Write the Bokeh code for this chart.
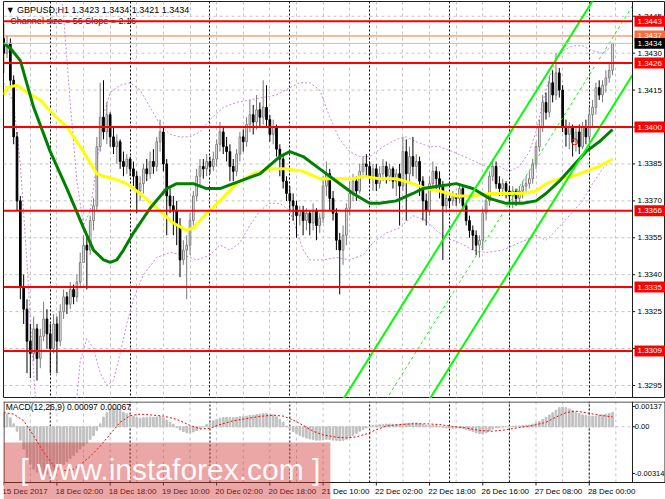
from bokeh.plotting import figure
from bokeh.layouts import column
from bokeh.models import Range1d, ColumnDataSource
from bokeh.core.properties import value
from bokeh.embed import file_html
from bokeh.resources import INLINE

FONT = "Liberation Sans"

# ---------------- data (GBPUSD H1, bar index 0 = 15 Dec 10:00) ----------------
first_open = 1.3436
close = [
    # 15 Dec
    1.3430, 1.3434, 1.3419, 1.3396, 1.3370, 1.3335, 1.3326, 1.3313, 1.3308, 1.3318, 1.3306, 1.3315, 1.3322, 1.3316,
    # 18 Dec
    1.3310, 1.3320, 1.3313, 1.3325, 1.3331, 1.3328, 1.3334, 1.3331, 1.3337, 1.3345, 1.3352, 1.3350,
    1.3362, 1.3368, 1.3392, 1.3404, 1.3398, 1.3405, 1.3396, 1.3392, 1.3394, 1.3386, 1.3384, 1.3387,
    # 19 Dec
    1.3383, 1.3380, 1.3374, 1.3377, 1.3383, 1.3381, 1.3386, 1.3384, 1.3394, 1.3398, 1.3385, 1.3372,
    1.3368, 1.3366, 1.3360, 1.3346, 1.3350, 1.3352, 1.3362, 1.3372, 1.3380, 1.3384, 1.3383, 1.3386,
    # 20 Dec
    1.3384, 1.3387, 1.3393, 1.3398, 1.3392, 1.3390, 1.3384, 1.3382, 1.3389, 1.3396, 1.3394, 1.3401,
    1.3405, 1.3402, 1.3407, 1.3404, 1.3408, 1.3403, 1.3397, 1.3400, 1.3391, 1.3387, 1.3378, 1.3373,
    # 21 Dec
    1.3370, 1.3368, 1.3364, 1.3366, 1.3362, 1.3365, 1.3361, 1.3366, 1.3360, 1.3363, 1.3376, 1.3381,
    1.3371, 1.3365, 1.3354, 1.3350, 1.3356, 1.3367, 1.3373, 1.3378, 1.3374, 1.3382, 1.3385, 1.3384,
    # 22 Dec
    1.3380, 1.3383, 1.3377, 1.3381, 1.3384, 1.3380, 1.3383, 1.3378, 1.3381, 1.3376, 1.3390, 1.3381,
    1.3388, 1.3384, 1.3386, 1.3378, 1.3370, 1.3366, 1.3377, 1.3382, 1.3379, 1.3376, 1.3368, 1.3371,
    # 26 Dec
    1.3370, 1.3372, 1.3371, 1.3375, 1.3368, 1.3362, 1.3358, 1.3356, 1.3352, 1.3354, 1.3365, 1.3370,
    1.3380, 1.3384, 1.3377, 1.3375, 1.3377, 1.3374,
    # 27 Dec
    1.3372, 1.3374, 1.3371, 1.3374, 1.3376, 1.3377, 1.3379, 1.3385, 1.3392, 1.3400, 1.3410, 1.3406,
    1.3418, 1.3413, 1.3422, 1.3415, 1.3400, 1.3397, 1.3400, 1.3394, 1.3398, 1.3392, 1.3400, 1.3396,
    # 28 Dec
    1.3405, 1.3408, 1.3416, 1.3413, 1.3417, 1.3420, 1.3423, 1.3434,
]
high = [
    1.3442, 1.3437, 1.3436, 1.3421, 1.3398, 1.3372, 1.3340, 1.3330, 1.3320, 1.3323, 1.3320, 1.3318, 1.3329, 1.3326,
    1.3320, 1.3324, 1.3323, 1.3328, 1.3334, 1.3333, 1.3337, 1.3336, 1.3340, 1.3349, 1.3356, 1.3356,
    1.3364, 1.3371, 1.3396, 1.3418, 1.3419, 1.3410, 1.3406, 1.3400, 1.3397, 1.3395, 1.3390, 1.3389,
    1.3388, 1.3386, 1.3382, 1.3380, 1.3385, 1.3387, 1.3390, 1.3391, 1.3396, 1.3403, 1.3400, 1.3387,
    1.3375, 1.3372, 1.3370, 1.3363, 1.3354, 1.3356, 1.3365, 1.3374, 1.3383, 1.3387, 1.3387, 1.3389,
    1.3388, 1.3390, 1.3395, 1.3402, 1.3400, 1.3396, 1.3393, 1.3387, 1.3391, 1.3398, 1.3399, 1.3404,
    1.3411, 1.3409, 1.3413, 1.3410, 1.3419, 1.3417, 1.3405, 1.3403, 1.3401, 1.3393, 1.3389, 1.3380,
    1.3376, 1.3373, 1.3370, 1.3368, 1.3368, 1.3367, 1.3366, 1.3369, 1.3367, 1.3365, 1.3380, 1.3386,
    1.3383, 1.3374, 1.3367, 1.3357, 1.3360, 1.3369, 1.3378, 1.3381, 1.3380, 1.3385, 1.3388, 1.3389,
    1.3386, 1.3385, 1.3385, 1.3384, 1.3387, 1.3386, 1.3385, 1.3384, 1.3383, 1.3385, 1.3396, 1.3395,
    1.3392, 1.3396, 1.3389, 1.3388, 1.3380, 1.3373, 1.3380, 1.3386, 1.3384, 1.3382, 1.3378, 1.3374,
    1.3373, 1.3374, 1.3373, 1.3377, 1.3376, 1.3369, 1.3364, 1.3360, 1.3358, 1.3356, 1.3367, 1.3372,
    1.3382, 1.3387, 1.3386, 1.3380, 1.3379, 1.3378,
    1.3376, 1.3376, 1.3375, 1.3376, 1.3378, 1.3380, 1.3382, 1.3387, 1.3394, 1.3403, 1.3413, 1.3414,
    1.3421, 1.3423, 1.3430, 1.3424, 1.3417, 1.3403, 1.3402, 1.3401, 1.3400, 1.3401, 1.3402, 1.3403,
    1.3408, 1.3411, 1.3418, 1.3419, 1.3419, 1.3423, 1.3426, 1.3434,
]
low = [
    1.3422, 1.3428, 1.3416, 1.3393, 1.3366, 1.3330, 1.3320, 1.3300, 1.3298, 1.3305, 1.3297, 1.3302, 1.3313, 1.3310,
    1.3300, 1.3308, 1.3300, 1.3311, 1.3322, 1.3324, 1.3326, 1.3328, 1.3329, 1.3335, 1.3345, 1.3334,
    1.3348, 1.3358, 1.3366, 1.3390, 1.3395, 1.3393, 1.3392, 1.3389, 1.3385, 1.3383, 1.3380, 1.3381,
    1.3380, 1.3376, 1.3365, 1.3370, 1.3373, 1.3378, 1.3379, 1.3381, 1.3382, 1.3390, 1.3382, 1.3356,
    1.3365, 1.3356, 1.3352, 1.3339, 1.3344, 1.3330, 1.3348, 1.3360, 1.3370, 1.3376, 1.3379, 1.3380,
    1.3381, 1.3382, 1.3384, 1.3390, 1.3389, 1.3386, 1.3378, 1.3378, 1.3380, 1.3386, 1.3390, 1.3392,
    1.3398, 1.3397, 1.3399, 1.3400, 1.3401, 1.3400, 1.3394, 1.3393, 1.3388, 1.3380, 1.3375, 1.3370,
    1.3366, 1.3362, 1.3355, 1.3360, 1.3356, 1.3358, 1.3356, 1.3358, 1.3354, 1.3357, 1.3361, 1.3372,
    1.3366, 1.3362, 1.3350, 1.3332, 1.3344, 1.3352, 1.3364, 1.3370, 1.3370, 1.3373, 1.3379, 1.3380,
    1.3377, 1.3374, 1.3374, 1.3375, 1.3378, 1.3377, 1.3378, 1.3375, 1.3372, 1.3360, 1.3374, 1.3362,
    1.3378, 1.3380, 1.3379, 1.3372, 1.3362, 1.3360, 1.3364, 1.3374, 1.3374, 1.3371, 1.3346, 1.3365,
    1.3367, 1.3368, 1.3368, 1.3369, 1.3366, 1.3360, 1.3355, 1.3350, 1.3348, 1.3347, 1.3350, 1.3362,
    1.3368, 1.3378, 1.3375, 1.3372, 1.3372, 1.3371,
    1.3369, 1.3367, 1.3368, 1.3369, 1.3371, 1.3373, 1.3375, 1.3377, 1.3383, 1.3390, 1.3398, 1.3403,
    1.3404, 1.3410, 1.3411, 1.3412, 1.3398, 1.3392, 1.3391, 1.3388, 1.3390, 1.3389, 1.3391, 1.3393,
    1.3394, 1.3400, 1.3405, 1.3411, 1.3410, 1.3414, 1.3418, 1.3421,
]

# moving averages (sampled: bar index, price)
ma_green_idx = [0, 2, 5, 9, 14, 19, 24, 27, 30, 32, 34, 36, 39, 44, 49, 52, 57, 61, 65, 71, 77, 83, 86, 90,
                95, 100, 105, 110, 113, 118, 123, 126, 131, 136, 141, 146, 151, 156, 160, 163, 167, 171, 175, 179, 183]
ma_green = [1.3434, 1.3432, 1.3427, 1.3408, 1.3390, 1.3375, 1.3359, 1.3350, 1.3346, 1.3345, 1.3346, 1.3350,
            1.3357, 1.3367, 1.3375, 1.3377, 1.3377, 1.3375, 1.3375, 1.3378, 1.3381, 1.3388, 1.3390, 1.3388,
            1.3383, 1.3378, 1.3373, 1.3369, 1.3369, 1.3370, 1.3373, 1.3375, 1.3376, 1.3377, 1.3375, 1.3371,
            1.3369, 1.3369, 1.3370, 1.3373, 1.3378, 1.3384, 1.3390, 1.3394, 1.3399]
ma_yellow_idx = [0, 1, 4, 7, 11, 15, 19, 24, 28, 30, 33, 37, 41, 46, 51, 55, 57, 61, 65, 70, 75, 80, 85, 90,
                 95, 100, 105, 108, 113, 118, 123, 127, 131, 136, 141, 146, 151, 156, 160, 163, 167, 171, 175, 179, 183]
ma_yellow = [1.3413, 1.3416, 1.3417, 1.3414, 1.3411, 1.3405, 1.3400, 1.3390, 1.3381, 1.3380, 1.3379, 1.3377,
             1.3373, 1.3367, 1.3361, 1.3358, 1.3359, 1.3365, 1.3370, 1.3377, 1.3381, 1.3383, 1.3383, 1.3382,
             1.3379, 1.3379, 1.3379, 1.3380, 1.3379, 1.3379, 1.3377, 1.3375, 1.3374, 1.3372, 1.3372, 1.3373,
             1.3373, 1.3373, 1.3374, 1.3377, 1.3379, 1.3380, 1.3382, 1.3384, 1.3387]

# bands (sampled)
bb_up_idx = [0, 8, 16, 18, 20, 22, 24, 26, 28, 30, 32, 35, 38, 41, 44, 47, 50, 53, 56, 59, 62, 66, 70, 74, 78,
             82, 86, 89, 92, 95, 98, 101, 104, 107, 110, 114, 118, 121, 124, 128, 131, 135, 140, 145, 149, 152,
             155, 158, 160, 162, 164, 166, 168, 171, 174, 177, 180, 183]
bb_up = [1.3460, 1.3475, 1.3470, 1.3445, 1.3410, 1.3378, 1.3360, 1.3366, 1.3385, 1.3405, 1.3414, 1.3417,
         1.3418, 1.3415, 1.3408, 1.3401, 1.3397, 1.3396, 1.3396, 1.3398, 1.3403, 1.3408, 1.3410, 1.3411,
         1.3412, 1.3413, 1.3416, 1.3418, 1.3418, 1.3415, 1.3404, 1.3395, 1.3390, 1.3388, 1.3388, 1.3392,
         1.3395, 1.3396, 1.3394, 1.3392, 1.3392, 1.3390, 1.3387, 1.3384, 1.3384, 1.3382, 1.3384, 1.3390,
         1.3398, 1.3410, 1.3420, 1.3427, 1.3431, 1.3433, 1.3433, 1.3431, 1.3430, 1.3433]
bb_lo_idx = [0, 3, 5, 7, 9, 10, 12, 20, 22, 23, 25, 27, 29, 31, 33, 35, 37, 39, 42, 46, 50, 54, 58, 62, 65,
             68, 71, 74, 77, 80, 83, 86, 88, 90, 92, 96, 100, 104, 108, 111, 115, 119, 123, 127, 130, 133,
             137, 141, 145, 150, 155, 160, 163, 166, 170, 174, 177, 180, 183]
bb_lo = [1.3418, 1.3410, 1.3385, 1.3345, 1.3300, 1.3280, 1.3260, 1.3260, 1.3290, 1.3305, 1.3314, 1.3310,
         1.3300, 1.3295, 1.3297, 1.3308, 1.3320, 1.3330, 1.3340, 1.3347, 1.3349, 1.3348, 1.3346, 1.3348,
         1.3352, 1.3350, 1.3353, 1.3360, 1.3366, 1.3369, 1.3369, 1.3366, 1.3358, 1.3350, 1.3346, 1.3346,
         1.3347, 1.3346, 1.3348, 1.3353, 1.3357, 1.3359, 1.3364, 1.3362, 1.3358, 1.3355, 1.3353, 1.3350,
         1.3349, 1.3350, 1.3353, 1.3356, 1.3354, 1.3358, 1.3364, 1.3370, 1.3377, 1.3383, 1.3387]

# regression channel (upper line anchor, slope per bar, channel size)
chan_anchor_idx = 102.35
chan_anchor_upper = 1.3290
chan_slope = 0.000216
chan_size = 0.0056

# horizontal levels and price markers
levels = [1.3443, 1.3426, 1.3400, 1.3366, 1.3335, 1.3309]
ask_price = 1.3437
bid_price = 1.3434
order_mark_idx = [171.6]
order_mark_price = [1.3394]

price_ticks = [1.3445, 1.3430, 1.3415, 1.3400, 1.3385, 1.3370, 1.3355, 1.3340, 1.3325, 1.3310, 1.3295]
day_start_idx = [14, 38, 62, 86, 110, 134, 152, 176]
grid_idx = [8, 16, 24, 32, 40, 48, 56, 64, 72, 80, 88, 96, 104, 112, 120, 128, 136, 144, 152, 160, 168, 176, 184]
date_label_idx = [0, 16, 32, 48, 64, 80, 96, 112, 128, 144, 160, 176]
date_labels = ["15 Dec 2017", "18 Dec 02:00", "18 Dec 18:00", "19 Dec 10:00", "20 Dec 02:00", "20 Dec 18:00",
               "21 Dec 10:00", "22 Dec 02:00", "22 Dec 18:00", "26 Dec 16:00", "27 Dec 08:00", "28 Dec 00:00"]

# MACD (12,26,9): main line (histogram) per bar, signal sampled
macd_hist = [
    0.00090, 0.00085, 0.00060, 0.00020, -0.00030, -0.00090, -0.00150, -0.00205, -0.00250, -0.00285, -0.00305, -0.00318, -0.00322, -0.00318,
    -0.00310, -0.00298, -0.00285, -0.00270, -0.00252, -0.00235, -0.00215, -0.00195, -0.00172, -0.00150, -0.00128, -0.00110,
    -0.00085, -0.00060, -0.00025, 0.00020, 0.00065, 0.00095, 0.00115, 0.00125, 0.00122, 0.00110, 0.00098, 0.00088,
    0.00078, 0.00070, 0.00062, 0.00058, 0.00060, 0.00062, 0.00065, 0.00064, 0.00066, 0.00070, 0.00060, 0.00045,
    0.00030, 0.00015, -0.00005, -0.00022, -0.00032, -0.00040, -0.00042, -0.00035, -0.00025, -0.00012, 0.00002, 0.00015,
    0.00028, 0.00040, 0.00050, 0.00058, 0.00062, 0.00063, 0.00062, 0.00062, 0.00064, 0.00068, 0.00070, 0.00072,
    0.00076, 0.00078, 0.00082, 0.00085, 0.00090, 0.00090, 0.00085, 0.00080, 0.00068, 0.00050, 0.00030, 0.00005,
    -0.00015, -0.00032, -0.00046, -0.00058, -0.00068, -0.00076, -0.00082, -0.00086, -0.00090, -0.00090, -0.00086, -0.00084,
    -0.00086, -0.00090, -0.00092, -0.00094, -0.00092, -0.00084, -0.00072, -0.00058, -0.00044, -0.00030, -0.00018, -0.00008,
    0.00002, 0.00008, 0.00012, 0.00014, 0.00016, 0.00018, 0.00018, 0.00016, 0.00015, 0.00016, 0.00020, 0.00022,
    0.00024, 0.00026, 0.00026, 0.00022, 0.00016, 0.00010, 0.00008, 0.00010, 0.00008, 0.00004, -0.00004, -0.00008,
    -0.00010, -0.00010, -0.00008, -0.00008, -0.00012, -0.00018, -0.00025, -0.00032, -0.00040, -0.00045, -0.00048, -0.00040,
    -0.00028, -0.00015, -0.00008, -0.00005, -0.00002, 0.00000,
    0.00002, 0.00004, 0.00005, 0.00006, 0.00008, 0.00010, 0.00012, 0.00018, 0.00026, 0.00036, 0.00050, 0.00064,
    0.00080, 0.00095, 0.00112, 0.00128, 0.00132, 0.00128, 0.00120, 0.00110, 0.00098, 0.00088, 0.00080, 0.00076,
    0.00072, 0.00070, 0.00072, 0.00076, 0.00080, 0.00085, 0.00090, 0.00097,
]
sig_idx = [0, 3, 6, 9, 12, 15, 17, 19, 21, 23, 26, 29, 32, 35, 38, 41, 44, 48, 52, 56, 59, 62, 65, 69, 73, 77,
           81, 84, 87, 90, 93, 96, 100, 103, 106, 109, 112, 115, 119, 123, 127, 131, 135, 139, 143, 147, 151,
           155, 159, 163, 166, 169, 172, 175, 178, 181, 183]
sig = [0.00095, 0.00085, 0.00040, -0.00060, -0.00170, -0.00262, -0.00290, -0.00295, -0.00285, -0.00255, -0.00200,
       -0.00130, -0.00050, 0.00030, 0.00075, 0.00085, 0.00080, 0.00072, 0.00050, 0.00010, -0.00015, -0.00010,
       0.00015, 0.00040, 0.00055, 0.00070, 0.00078, 0.00072, 0.00045, 0.00010, -0.00030, -0.00055, -0.00070,
       -0.00075, -0.00068, -0.00048, -0.00020, 0.00005, 0.00015, 0.00020, 0.00020, 0.00015, 0.00002, -0.00008,
       -0.00025, -0.00030, -0.00020, -0.00005, 0.00008, 0.00030, 0.00065, 0.00095, 0.00105, 0.00095, 0.00082,
       0.00072, 0.00067]
macd_ticks = [0.00137, 0.0, -0.00314]
macd_tick_labels = ["0.00137", "0.00", "-0.00314"]

header_text = "\u25BC GBPUSD,H1  1.3423 1.3434 1.3421 1.3434"
channel_text = "Channel size = 56 Slope = 2.16"
macd_text = "MACD(12,26,9) 0.00097 0.00067"
watermark_text = "[ www.instaforex.com ]"

# ---------------- geometry / style ----------------
X0, X1 = -0.06, 198.92      # frame spans bars + price-scale column
AX = 189.0                  # price-scale separator (bar units)
FW = 662                    # frame width in px
HX = 0.5 * (X1 - X0) / FW   # half a pixel, in bar units
GRID_C = "#C4C4C4"
FRAME_C = "#1E1E1E"
PINK = "#D33A3A"
PINK_ALPHA = 0.45
WM_RIGHT = 98.2
XR = Range1d(X0, X1)

# ---------------- main price panel ----------------
N = len(close)
idx = list(range(N))
opens = [first_open] + close[:-1]
bull = [c >= o for o, c in zip(opens, close)]
src = ColumnDataSource(dict(
    x=idx, high=high, low=low,
    top=[max(o, c) for o, c in zip(opens, close)],
    bottom=[min(o, c) for o, c in zip(opens, close)],
    fill=["#FFFFFF" if b else "#000000" for b in bull],
    line=["#7A7A7A" if b else "#000000" for b in bull],
))

p = figure(frame_width=FW, frame_height=397, x_range=XR, y_range=Range1d(1.32897, 1.34510),
           output_backend="svg", toolbar_location=None, x_axis_location=None, y_axis_location=None,
           min_border_left=3, min_border_right=0, min_border_top=1, min_border_bottom=0)
p.grid.visible = False
p.outline_line_color = FRAME_C

nt = len(price_ticks)
p.segment(x0=[X0] * nt, y0=price_ticks, x1=[AX] * nt, y1=price_ticks, line_color=GRID_C, line_dash="3 3")
p.vspan(x=grid_idx, line_color=GRID_C, line_dash="3 3", line_width=1)
p.vspan(x=day_start_idx, line_color="#000000", line_dash="2 2", line_width=1)

p.text(x=[0.6], y=[1.34477], text=[header_text], text_font=value(FONT), text_font_size="9px",
       text_baseline="middle", text_color="#000000")
p.text(x=[2.0], y=[1.34432], text=[channel_text], text_font=value(FONT), text_font_size="9px",
       text_baseline="middle", text_color="#202020")

p.line(bb_up_idx, bb_up, line_color="#C58AF0", line_dash="2 2", line_width=1)
p.line(bb_lo_idx, bb_lo, line_color="#C58AF0", line_dash="2 2", line_width=1)

p.segment(x0="x", y0="high", x1="x", y1="low", line_color="line", line_width=1, source=src)
p.vbar(x="x", width=0.5, top="top", bottom="bottom", fill_color="fill", line_color="line",
       line_width=1, source=src)

p.line(ma_yellow_idx, ma_yellow, line_color="#FFFF00", line_width=3)
p.line(ma_green_idx, ma_green, line_color="#008000", line_width=3)

chan_x = [90, AX]
up_y = [chan_anchor_upper + chan_slope * (x - chan_anchor_idx) for x in chan_x]
p.line(chan_x, up_y, line_color="#00FF00", line_width=2)
p.line(chan_x, [y - chan_size for y in up_y], line_color="#00FF00", line_width=2)
p.line(chan_x, [y - chan_size / 2 for y in up_y], line_color="#00FF00", line_width=1, line_dash="3 3")

nl = len(levels)
p.segment(x0=[X0] * nl, y0=levels, x1=[AX] * nl, y1=levels, line_color="#FF0000", line_width=2)
p.segment(x0=[X0], y0=[ask_price], x1=[AX], y1=[ask_price], line_color="#FF6A3D", line_width=1)
p.segment(x0=[X0], y0=[bid_price], x1=[AX], y1=[bid_price], line_color="#C0C0C0", line_width=1)
p.scatter(order_mark_idx, order_mark_price, marker="circle", size=6, fill_color=None,
          line_color="#FF0000", line_width=1)

# price scale column
p.vspan(x=[AX], line_color=FRAME_C, line_width=1)
p.segment(x0=[AX] * nt, y0=price_ticks, x1=[AX + 0.8] * nt, y1=price_ticks, line_color=FRAME_C)
p.text(x=[AX + 1.5] * nt, y=price_ticks, text=[f"{t:.4f}" for t in price_ticks], text_font=value(FONT),
       text_font_size="8px", text_baseline="middle", text_color="#000000")
box_prices = levels + [ask_price, bid_price]
box_colors = ["#FF0000"] * nl + ["#FF6A3D", "#000000"]
HB = 0.000222
p.quad(left=[AX + 0.6] * len(box_prices), right=[X1] * len(box_prices),
       top=[b + HB for b in box_prices], bottom=[b - HB for b in box_prices],
       fill_color=box_colors, line_color=None)
p.text(x=[AX + 1.5] * len(box_prices), y=box_prices, text=[f"{b:.4f}" for b in box_prices],
       text_font=value(FONT), text_font_size="8px", text_baseline="middle", text_color="#FFFFFF")

# ---------------- MACD panel + time scale ----------------
MY0, MY1 = -0.00375, 0.0017          # MACD window limits (81 px tall)
MPX = 81 / (MY1 - MY0)               # px per MACD unit
YB = MY0 - 17 / MPX                  # bottom of the time-scale strip
m = figure(frame_width=FW, frame_height=98, x_range=XR, y_range=Range1d(YB, MY1),
           output_backend="svg", toolbar_location=None, x_axis_location=None, y_axis_location=None,
           min_border_left=3, min_border_right=0, min_border_top=3, min_border_bottom=0)
m.grid.visible = False
m.outline_line_color = None

ng = len(grid_idx)
m.segment(x0=grid_idx, y0=[MY0] * ng, x1=grid_idx, y1=[MY1] * ng, line_color=GRID_C, line_dash="3 3")
m.segment(x0=[X0], y0=[0.0], x1=[AX], y1=[0.0], line_color=GRID_C, line_dash="3 3")
nds = len(day_start_idx)
m.segment(x0=day_start_idx, y0=[MY0] * nds, x1=day_start_idx, y1=[MY1] * nds, line_color="#000000",
          line_dash="2 2")
m.vbar(x=idx, top=macd_hist, bottom=0, width=0.5, fill_color="#C0C0C0", line_color="#C0C0C0", line_width=1)
m.line(sig_idx, sig, line_color="#FF0000", line_dash="2 2", line_width=1)
m.text(x=[0.6], y=[0.00131], text=[macd_text], text_font=value(FONT), text_font_size="8.5px",
       text_baseline="middle", text_color="#000000")

# window border and value scale
HY = 0.5 / MPX
m.segment(x0=[X0, X0, X0 + HX, X1 - HX, AX], y0=[MY1 - HY, MY0, MY0, MY0, MY0],
          x1=[X1, X1, X0 + HX, X1 - HX, AX], y1=[MY1 - HY, MY0, MY1, MY1, MY1], line_color=FRAME_C)
nm = len(macd_ticks)
m.segment(x0=[AX] * nm, y0=macd_ticks, x1=[AX + 0.8] * nm, y1=macd_ticks, line_color=FRAME_C)
m.text(x=[AX + 0.7] * nm, y=macd_ticks, text=macd_tick_labels, text_font=value(FONT),
       text_font_size="7.5px", text_baseline="middle", text_color="#000000")

# time scale
nd = len(date_label_idx)
m.segment(x0=date_label_idx, y0=[MY0] * nd, x1=date_label_idx, y1=[MY0 - 3 / MPX] * nd, line_color=FRAME_C)
m.text(x=[i - 0.4 for i in date_label_idx], y=[MY0 - 8.5 / MPX] * nd, text=date_labels,
       text_font=value(FONT), text_font_size="8px", text_baseline="middle", text_align="left",
       text_color="#000000")

# watermark
m.quad(left=[X0], right=[WM_RIGHT], top=[-0.00106], bottom=[YB], fill_color=PINK,
       fill_alpha=PINK_ALPHA, line_color=None)
m.text(x=[5.0], y=[-0.00288], text=[watermark_text], text_font=value(FONT), text_font_size="30px",
       text_baseline="middle", text_color="#FFFFFF", text_alpha=0.95)

layout = column(p, m)
open("out.html", "w").write(file_html(layout, INLINE))
